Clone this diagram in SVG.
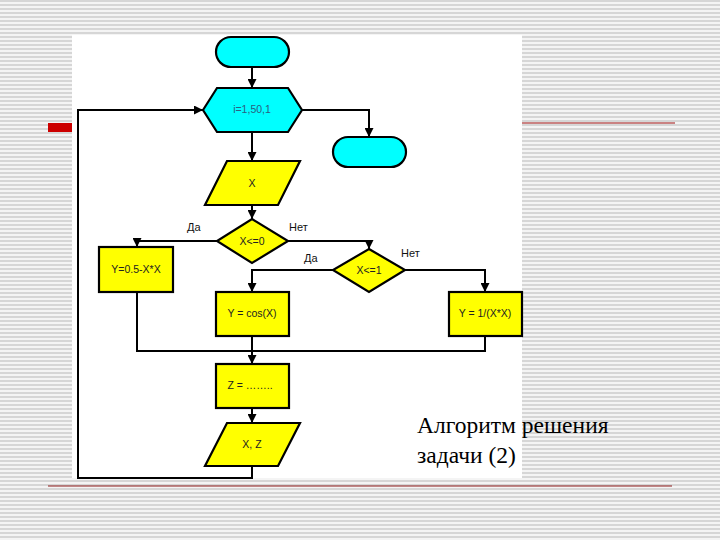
<svg xmlns="http://www.w3.org/2000/svg" width="720" height="540" viewBox="0 0 720 540">
<defs>
<pattern id="stripes" x="0" y="0" width="8" height="4" patternUnits="userSpaceOnUse">
<rect width="8" height="4" fill="#f4f4f4"/>
<rect y="0" width="8" height="2" fill="#d6d6d6"/>
</pattern>
<marker id="arr" viewBox="0 0 10 10" refX="10" refY="5" markerWidth="9" markerHeight="9" orient="auto" markerUnits="userSpaceOnUse">
<path d="M0,0 L10,5 L0,10 z" fill="#000"/>
</marker>
<style>
.cy{fill:#00ffff;stroke:#000;stroke-width:2.2}
.ye{fill:#ffff00;stroke:#000;stroke-width:2.2}
.ln{fill:none;stroke:#000;stroke-width:2}
.t{font-family:"Liberation Sans",Arial,sans-serif;font-size:10.5px;fill:#222;text-anchor:middle}
.lb{font-family:"Liberation Sans",Arial,sans-serif;font-size:11px;fill:#111}
.cap{font-family:"Liberation Serif","Times New Roman",serif;font-size:23.5px;fill:#000}
</style>
</defs>
<rect width="720" height="540" fill="url(#stripes)"/>
<rect x="48" y="123" width="30" height="9" fill="#cc0000"/>
<line x1="522" y1="123" x2="675" y2="123" stroke="#a01010" stroke-width="1"/>
<line x1="48" y1="486" x2="672" y2="486" stroke="#8b1a1a" stroke-width="1.2"/>
<rect x="72" y="35" width="450" height="443" fill="#fff"/>

<g id="connectors">
<path class="ln" d="M252,67 V88" marker-end="url(#arr)"/>
<path class="ln" d="M252,132 V161" marker-end="url(#arr)"/>
<path class="ln" d="M302,110 H369 V137" marker-end="url(#arr)"/>
<path class="ln" d="M252,205 V219" marker-end="url(#arr)"/>
<path class="ln" d="M217,241 H137 V247" marker-end="url(#arr)"/>
<path class="ln" d="M288,241 H369 V249" marker-end="url(#arr)"/>
<path class="ln" d="M333,270 H252 V292" marker-end="url(#arr)"/>
<path class="ln" d="M405,270 H485 V292" marker-end="url(#arr)"/>
<path class="ln" d="M137,292 V351 H485 V336"/>
<path class="ln" d="M252,336 V364" marker-end="url(#arr)"/>
<path class="ln" d="M252,408 V423" marker-end="url(#arr)"/>
<path class="ln" d="M252,466 V478 H78 V110 H203" marker-end="url(#arr)"/>
<text class="lb" x="187" y="231">Да</text>
<text class="lb" x="289" y="231">Нет</text>
<text class="lb" x="304" y="262">Да</text>
<text class="lb" x="401" y="257">Нет</text>
</g>

<g id="start"><rect class="cy" x="216" y="37" width="73" height="30" rx="15"/></g>
<g id="loop"><polygon class="cy" points="203,110 217,88 288,88 302,110 288,132 217,132"/><text class="t" x="252" y="113" style="fill:#2a6080">i=1,50,1</text></g>
<g id="end"><rect class="cy" x="333" y="137" width="73" height="30" rx="15"/></g>
<g id="inputX"><polygon class="ye" points="227,161 300,161 278,205 205,205"/><text class="t" x="252" y="187">X</text></g>
<g id="cond1"><polygon class="ye" points="252,219 288,241 252,263 217,241"/><text class="t" x="252" y="245">X&lt;=0</text></g>
<g id="y1"><rect class="ye" x="99" y="247" width="74" height="45"/><text class="t" x="136" y="273">Y=0.5-X*X</text></g>
<g id="cond2"><polygon class="ye" points="369,249 405,270 369,292 333,270"/><text class="t" x="369" y="274">X&lt;=1</text></g>
<g id="y2"><rect class="ye" x="216" y="292" width="73" height="44"/><text class="t" x="252" y="317">Y = cos(X)</text></g>
<g id="y3"><rect class="ye" x="449" y="292" width="73" height="44"/><text class="t" x="485" y="317">Y = 1/(X*X)</text></g>
<g id="z"><rect class="ye" x="216" y="364" width="73" height="44"/><text class="t" x="250" y="389">Z = ……..</text></g>
<g id="output"><polygon class="ye" points="227,423 300,423 278,466 205,466"/><text class="t" x="252" y="448">X, Z</text></g>

<g id="caption">
<text class="cap" x="417" y="433">Алгоритм решения</text>
<text class="cap" x="417" y="463">задачи (2)</text>
</g>
</svg>
